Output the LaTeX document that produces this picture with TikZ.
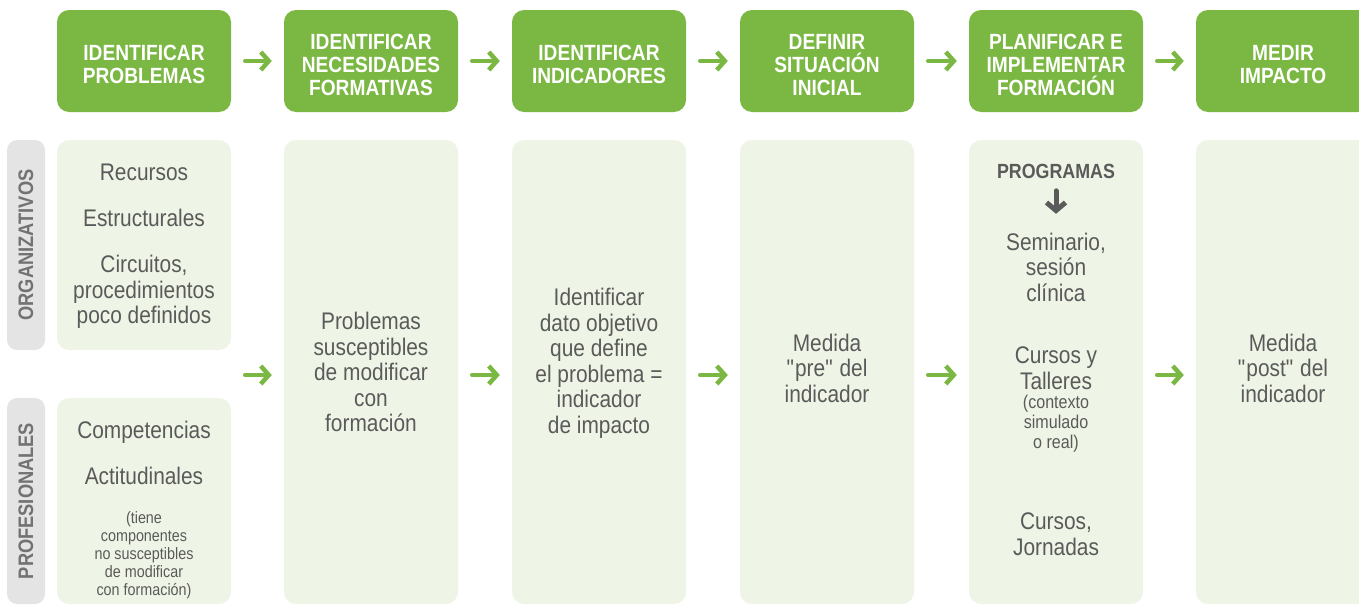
\documentclass[tikz,border=0pt]{standalone}
\usepackage{fontspec}
\setmainfont{Liberation Sans}[FakeStretch=0.87]
\usepackage{tikz}
\usetikzlibrary{arrows.meta,positioning}

\definecolor{hdrgreen}{HTML}{7BB843}
\definecolor{palegreen}{HTML}{EFF5E6}
\definecolor{sidegray}{HTML}{E4E4E4}
\definecolor{txtgray}{HTML}{5A5A5A}
\definecolor{labelgray}{HTML}{727272}

% straight double quote, without the tex-text mapping
\newcommand{\dq}{\XeTeXglyph\XeTeXcharglyph"22\relax}
\newcommand{\hdrstrut}{\rule{0pt}{23pt}}

\tikzset{
  header/.style={fill=hdrgreen, rounded corners=12pt, minimum width=174pt, minimum height=102pt, inner sep=0pt,
    text=white, align=center, font=\bfseries\fontsize{22}{23}\selectfont},
  column/.style={fill=palegreen, rounded corners=12pt, minimum width=174pt, inner sep=0pt},
  sidelabel/.style={fill=sidegray, rounded corners=10pt, minimum height=38pt, inner sep=0pt,
    text=labelgray, font=\bfseries\fontsize{21}{22}\selectfont},
  bodytext/.style={text=txtgray, align=center, font=\fontsize{24}{25.5}\selectfont},
  smalltext/.style={text=txtgray, align=center, font=\fontsize{16.5}{18}\selectfont},
  flow/.style={draw=hdrgreen, line width=4.5pt, line cap=round, line join=round,
    -{Straight Barb[length=8pt,width=18pt]}, shorten <=14pt, shorten >=12pt}
}

\begin{document}
\begin{tikzpicture}[x=1pt, y=-1pt]
  \useasboundingbox (0,0) rectangle (1359,605);
  \clip (0,0) rectangle (1359,605);

  % cabeceras
  \node[header] (h1) at (144,61) {\hdrstrut IDENTIFICAR\\PROBLEMAS};
  \node[header] (h2) at (371,61) {\hdrstrut IDENTIFICAR\\NECESIDADES\\FORMATIVAS};
  \node[header] (h3) at (599,61) {\hdrstrut IDENTIFICAR\\INDICADORES};
  \node[header] (h4) at (827,61) {\hdrstrut DEFINIR\\SITUACIÓN\\INICIAL};
  \node[header] (h5) at (1056,61) {\hdrstrut PLANIFICAR E\\IMPLEMENTAR\\FORMACIÓN};
  \node[header] (h6) at (1283,61) {\hdrstrut MEDIR\\IMPACTO};

  \draw[flow] (h1) -- (h2);
  \draw[flow] (h2) -- (h3);
  \draw[flow] (h3) -- (h4);
  \draw[flow] (h4) -- (h5);
  \draw[flow] (h5) -- (h6);

  % etiquetas laterales
  \node[sidelabel, minimum width=210pt, rotate=90] (org) at (26,245) {ORGANIZATIVOS};
  \node[sidelabel, minimum width=206pt, rotate=90] (prof) at (26,501) {PROFESIONALES};

  % columnas
  \node[column, minimum height=210pt] (c1a) at (144,245) {};
  \node[column, minimum height=206pt] (c1b) at (144,501) {};
  \node[column, minimum height=464pt] (c2) at (371,372) {};
  \node[column, minimum height=464pt] (c3) at (599,372) {};
  \node[column, minimum height=464pt] (c4) at (827,372) {};
  \node[column, minimum height=464pt] (c5) at (1056,372) {};
  \node[column, minimum height=464pt, minimum width=190pt] (c6) at (1291,372) {};

  \node[bodytext] (rec) at (144,172) {Recursos};
  \node[bodytext] (est) at (144,218) {Estructurales};
  \node[bodytext] (cir) at (144,292) {Circuitos,\\procedimientos\\poco definidos};
  \node[bodytext] (comp) at (144,432) {Competencias};
  \node[bodytext] (act) at (144,476) {Actitudinales};
  \node[smalltext] (tiene) at (144,555) {(tiene\\componentes\\no susceptibles\\de modificar\\con formación)};

  \node[bodytext] (prob) at (371,372) {Problemas\\susceptibles\\de modificar\\con\\formación};

  \node[bodytext] (ind) at (599,363.5) {Identificar\\dato objetivo\\que define\\el problema =\\indicador\\de impacto};

  \node[bodytext] (pre) at (827,368) {Medida\\\dq pre\dq{} del\\indicador};

  \node[text=txtgray, font=\bfseries\fontsize{20.5}{22}\selectfont] (prog) at (1056,171) {PROGRAMAS};
  \node[bodytext] (sem) at (1056,267) {Seminario,\\sesión\\clínica};
  \node[bodytext] (cur) at (1056,368) {Cursos y\\Talleres};
  \node[smalltext, font=\fontsize{18.5}{20}\selectfont] (ctx) at (1056,424) {(contexto\\simulado\\o real)};
  \node[bodytext] (jor) at (1056,534) {Cursos,\\Jornadas};
  \draw[draw=txtgray, line width=5pt, line cap=round, line join=round,
    -{Straight Barb[length=8pt,width=19pt]}] (prog.south) ++(0,9) -- ++(0,23);

  \node[bodytext] (post) at (1283,368) {Medida\\\dq post\dq{} del\\indicador};

  \draw[flow] ([yshift=-3pt]c1a.east |- c2) -- ([yshift=-3pt]c2.west);
  \draw[flow] ([yshift=-3pt]c2.east) -- ([yshift=-3pt]c3.west);
  \draw[flow] ([yshift=-3pt]c3.east) -- ([yshift=-3pt]c4.west);
  \draw[flow] ([yshift=-3pt]c4.east) -- ([yshift=-3pt]c5.west);
  \draw[flow] ([yshift=-3pt]c5.east) -- ([yshift=-3pt]c5.east -| c6.west);
\end{tikzpicture}
\end{document}
